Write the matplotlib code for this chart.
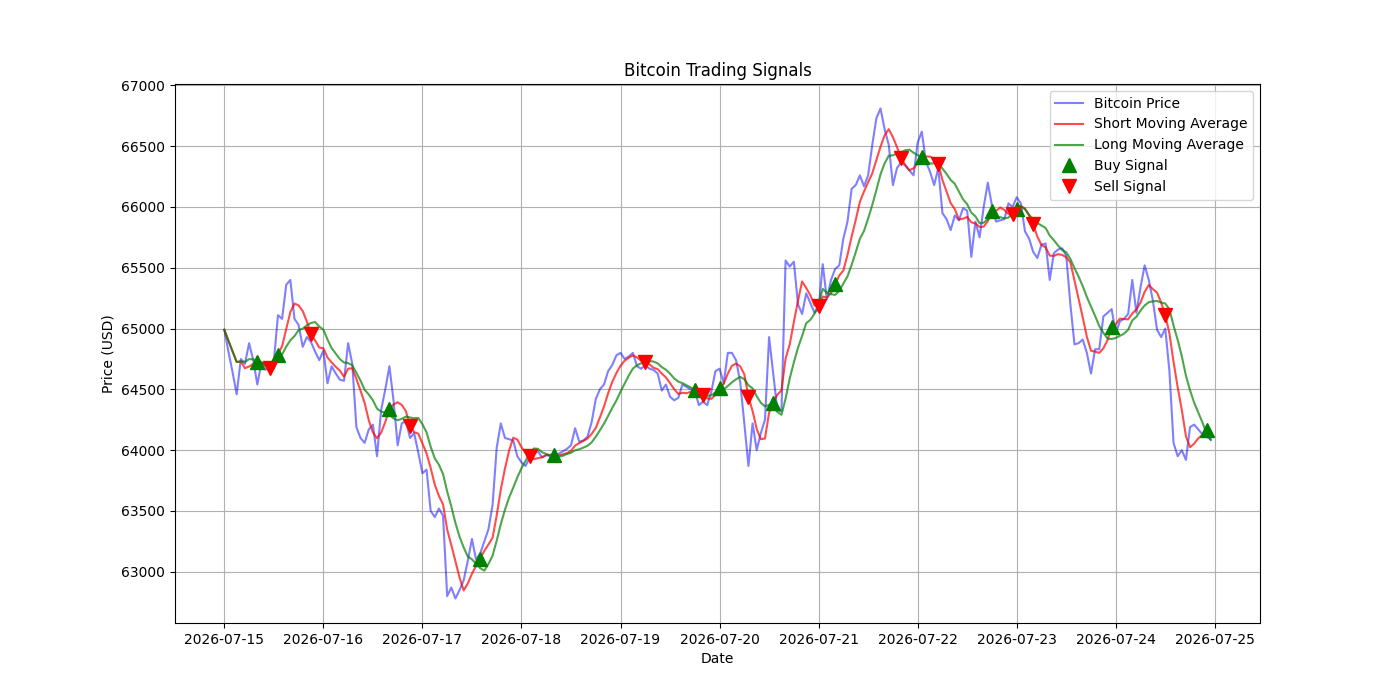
import matplotlib
matplotlib.use("Agg")
import matplotlib.pyplot as plt
import matplotlib.dates as mdates
import pandas as pd
import numpy as np

start_date = "2026-07-15"
n_hours = 240

price = [
    64990, 64810, 64640, 64460, 64750, 64710, 64880, 64740, 64540, 64720,
    64660, 64700, 64730, 65110, 65080, 65360, 65400, 65080, 65030, 64850,
    64930, 64890, 64810, 64740, 64820, 64550, 64690, 64630, 64580, 64570,
    64880, 64710, 64190, 64100, 64060, 64170, 64210, 63950, 64330, 64500,
    64690, 64410, 64040, 64220, 64240, 64100, 64140, 63980, 63810, 63840,
    63500, 63450, 63520, 63460, 62800, 62870, 62780, 62850, 62930, 63090,
    63270, 63100, 63150, 63250, 63350, 63550, 64020, 64220, 64100, 64090,
    64080, 63950, 63900, 63870, 63940, 63970, 63990, 63940, 63960, 63950,
    63960, 63970, 63990, 64010, 64040, 64180, 64070, 64080, 64110, 64230,
    64420, 64500, 64540, 64650, 64700, 64780, 64800, 64750, 64770, 64800,
    64690, 64670, 64700, 64670, 64660, 64630, 64490, 64540, 64440, 64410,
    64430, 64540, 64520, 64500, 64490, 64370, 64400, 64370, 64480, 64650,
    64670, 64550, 64800, 64800, 64740, 64560, 64220, 63870, 64220, 64000,
    64140, 64250, 64930, 64630, 64330, 64320, 65560, 65510, 65550, 65200,
    65120, 65290, 65210, 65130, 65160, 65530, 65240, 65400, 65490, 65520,
    65740, 65880, 66150, 66180, 66260, 66170, 66260, 66510, 66730, 66810,
    66640, 66510, 66180, 66320, 66370, 66340, 66300, 66260, 66530, 66620,
    66370, 66290, 66180, 66320, 65950, 65900, 65810, 65930, 65890, 65990,
    65970, 65590, 65880, 65750, 66000, 66200, 66010, 65880, 65890, 65900,
    66030, 66000, 66080, 66030, 65800, 65740, 65630, 65580, 65690, 65700,
    65400, 65620, 65650, 65660, 65600, 65200, 64870, 64880, 64910, 64800,
    64630, 64830, 64830, 65100, 65130, 65160, 64960, 65060, 65080, 65120,
    65400, 65130, 65340, 65520, 65400, 65230, 64990, 64930, 65000, 64650,
    64060, 63950, 64000, 63920, 64190, 64210, 64170, 64130, 64110, 64090,
]

short_window = 5
long_window = 10

# hour indices at which signals occur
buy_hours = [8, 13, 40, 62, 80, 114, 120, 133, 148, 169, 186, 192, 215, 238]
sell_hours = [11, 21, 45, 74, 102, 116, 127, 144, 164, 173, 191, 196, 228]

dates = pd.date_range(start_date, periods=n_hours, freq="h")
s = pd.Series(price, index=dates)
short_ma = s.rolling(window=short_window, min_periods=1).mean()
long_ma = s.rolling(window=long_window, min_periods=1).mean()

fig, ax = plt.subplots(figsize=(14, 7), dpi=100)
ax.plot(dates, s.values, color="b", alpha=0.5, label="Bitcoin Price")
ax.plot(dates, short_ma.values, color="r", alpha=0.7, label="Short Moving Average")
ax.plot(dates, long_ma.values, color="g", alpha=0.7, label="Long Moving Average")
ax.plot(dates[buy_hours], short_ma.values[buy_hours], "^", markersize=10,
        color="g", label="Buy Signal", linestyle="none")
ax.plot(dates[sell_hours], short_ma.values[sell_hours], "v", markersize=10,
        color="r", label="Sell Signal", linestyle="none")

ax.set_title("Bitcoin Trading Signals")
ax.set_xlabel("Date")
ax.set_ylabel("Price (USD)")
ax.xaxis.set_major_locator(mdates.DayLocator())
ax.xaxis.set_major_formatter(mdates.DateFormatter("%Y-%m-%d"))
ax.grid(True)
ax.legend(loc="upper right")

fig.savefig("out.png", dpi=100)
